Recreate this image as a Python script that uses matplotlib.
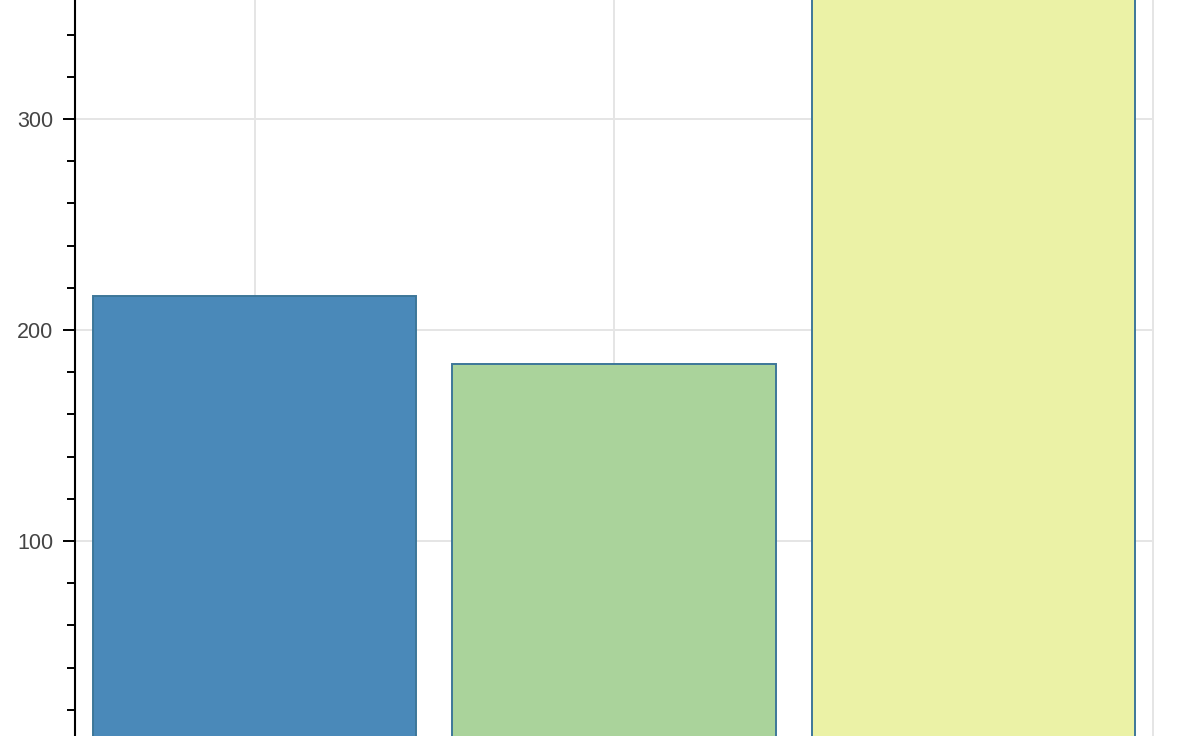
import matplotlib
matplotlib.use('Agg')
import matplotlib.pyplot as plt
import numpy as np

# data
categories = ['A', 'B', 'C']
values = [216, 184, 390]
colors = ['#4a89b9', '#aad39b', '#ebf2a6']

fig = plt.figure(figsize=(11.84, 7.36), dpi=100)
ax = fig.add_axes([75/1184, 0, (1153-75)/1184, 1])

x = np.arange(len(categories)) + 0.5
ax.bar(x, values, width=0.9, color=colors, edgecolor='#3d7799', linewidth=1.4, zorder=2)

ax.set_xlim(0, 3)
ax.set_ylim(7.6, 356.4)

# grid
ax.set_axisbelow(True)
ax.set_xticks(x)
ax.set_yticks([100, 200, 300])
ax.set_yticks(np.arange(20, 360, 20), minor=True)
ax.grid(True, which='major', color='#e5e5e5', linewidth=1.4)

# spines
for s in ['top', 'bottom']:
    ax.spines[s].set_visible(False)
ax.spines['right'].set_color('#e5e5e5')
ax.spines['right'].set_linewidth(1.4)
ax.spines['left'].set_color('black')
ax.spines['left'].set_linewidth(1.5)

ax.tick_params(axis='x', length=0, labelbottom=False)
ax.tick_params(axis='y', which='major', length=8.6, width=1.4, direction='out',
               pad=7, labelsize=15.5, labelcolor='#444444')
ax.tick_params(axis='y', which='minor', length=5.8, width=1.4, direction='out')
for lab in ax.get_yticklabels():
    lab.set_family(['Liberation Sans', 'DejaVu Sans'])

fig.savefig('out.png', dpi=100)
